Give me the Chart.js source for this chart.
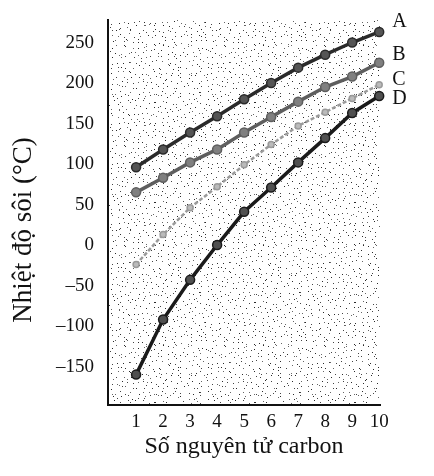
<!DOCTYPE html>
<html>
<head>
<meta charset="utf-8">
<script src="https://cdn.jsdelivr.net/npm/chart.js@4.4.1/dist/chart.umd.min.js"></script>
<style>
    html, body { margin: 0; padding: 0; background: #fff; }
    #wrap { width: 434px; height: 476px; }
</style>
</head>
<body>
<div id="wrap"><canvas id="boilingChart"></canvas></div>
<script>
// --- Data ---
const carbonCounts = [1, 2, 3, 4, 5, 6, 7, 8, 9, 10];
const seriesA = [96, 118, 139, 159, 180, 200, 219, 235, 250, 263];
const seriesB = [65, 83, 102, 118, 139, 158, 177, 195, 208, 225];
const seriesC = [-24, 13, 46, 72, 99, 124, 147, 164, 181, 198];
const seriesD = [-160, -92, -43, 0, 41, 71, 102, 132, 163, 184];
const seriesNames = ['A', 'B', 'C', 'D'];
const yTickValues = [-150, -100, -50, 0, 50, 100, 150, 200, 250];
const xTickValues = carbonCounts;

const serif = '"Liberation Serif", "DejaVu Serif", serif';

// dotted "print" texture for the plot area (decoration only)
// one dot per 5x5 cell, jittered so it doesn't look like a grid
function makeStipple(ctx) {
    const size = 100, cell = 5;
    const c = document.createElement('canvas');
    c.width = size; c.height = size;
    const g = c.getContext('2d');
    g.fillStyle = '#fff';
    g.fillRect(0, 0, size, size);
    const shades = ['#2a2a2a', '#444', '#666'];
    let s = 98765;
    for (let cy = 0; cy < size; cy += cell) {
        for (let cx = 0; cx < size; cx += cell) {
            s = (s * 16807) % 2147483647;
            const px = cx + (s % cell);
            s = (s * 16807) % 2147483647;
            const py = cy + (s % cell);
            g.fillStyle = shades[s % 3];
            g.fillRect(px, py, 1, 1);
        }
    }
    return ctx.createPattern(c, 'repeat');
}

const stipple = {
    id: 'stipple',
    beforeDraw(chart) {
        const { ctx, chartArea: { left, top, width, height } } = chart;
        if (!chart._stipple) chart._stipple = makeStipple(ctx);
        ctx.save();
        ctx.fillStyle = chart._stipple;
        ctx.fillRect(left, top, width, height);
        ctx.restore();
    }
};

// letter next to the last point of each line
const endLabels = {
    id: 'endLabels',
    afterDatasetsDraw(chart, args, opts) {
        const ctx = chart.ctx;
        ctx.save();
        ctx.font = opts.font;
        ctx.fillStyle = opts.color;
        ctx.textAlign = 'left';
        ctx.textBaseline = 'middle';
        chart.data.datasets.forEach((ds, i) => {
            const pts = chart.getDatasetMeta(i).data;
            const last = pts[pts.length - 1];
            ctx.fillText(ds.label, last.x + opts.dx, last.y + opts.dy[i]);
        });
        ctx.restore();
    }
};

// y title sits a bit lower than the axis middle in the original
const yTitle = {
    id: 'yTitle',
    afterDraw(chart, args, opts) {
        const ctx = chart.ctx;
        ctx.save();
        ctx.translate(opts.x, opts.y);
        ctx.rotate(-Math.PI / 2);
        ctx.font = opts.font;
        ctx.fillStyle = opts.color;
        ctx.textAlign = 'center';
        ctx.textBaseline = 'middle';
        ctx.fillText(opts.text, 0, 0);
        ctx.restore();
    }
};

const toPoints = vals => vals.map((v, i) => ({ x: carbonCounts[i], y: v }));

const lineStyles = [
    { color: '#2a2a2a', point: '#555', width: 3.5, dash: [], radius: 4.5 },
    { color: '#5e5e5e', point: '#808080', width: 3.5, dash: [], radius: 4.5 },
    { color: '#9a9a9a', point: '#bbb', width: 2.5, dash: [4, 2], radius: 3 },
    { color: '#1a1a1a', point: '#505050', width: 3.5, dash: [], radius: 4.5 }
];

const datasets = [seriesA, seriesB, seriesC, seriesD].map((vals, i) => ({
    label: seriesNames[i],
    data: toPoints(vals),
    borderColor: lineStyles[i].color,
    borderWidth: lineStyles[i].width,
    borderDash: lineStyles[i].dash,
    backgroundColor: lineStyles[i].point,
    pointBackgroundColor: lineStyles[i].point,
    pointBorderColor: lineStyles[i].color,
    pointBorderWidth: 1.5,
    pointRadius: lineStyles[i].radius,
    tension: 0,
    fill: false,
    clip: false
}));

const ctx = document.getElementById('boilingChart');

new Chart(ctx, {
    type: 'line',
    data: { datasets: datasets },
    options: {
        responsive: true,
        maintainAspectRatio: false,
        animation: false,
        layout: { padding: { top: 20, right: 54, left: 0, bottom: 0 } },
        plugins: {
            legend: { display: false },
            tooltip: { enabled: false },
            endLabels: { font: '20px ' + serif, color: '#111', dx: 13, dy: [-10, -8, -5, 3] },
            yTitle: { text: 'Nhiệt độ sôi (°C)', x: 24, y: 230, font: '27px ' + serif, color: '#111' }
        },
        scales: {
            x: {
                type: 'linear',
                min: -0.04,
                max: 10.03,
                afterFit: scale => { scale.height = 71; },
                afterBuildTicks: scale => { scale.ticks = xTickValues.map(v => ({ value: v })); },
                grid: { display: false, drawTicks: false },
                border: { display: true, color: '#111', width: 2 },
                ticks: {
                    font: { family: serif, size: 19 },
                    color: '#111',
                    padding: 6,
                    autoSkip: false,
                    maxRotation: 0
                },
                title: {
                    display: true,
                    text: 'Số nguyên tử carbon',
                    font: { family: serif, size: 24 },
                    color: '#111',
                    padding: { top: 0, bottom: 15 }
                }
            },
            y: {
                type: 'linear',
                min: -197.5,
                max: 277.8,
                // fixed width, and no extra room for half a tick label at the ends
                afterFit: scale => {
                    scale.width = 108;
                    scale.paddingTop = 0;
                    scale.paddingBottom = 0;
                },
                afterBuildTicks: scale => { scale.ticks = yTickValues.map(v => ({ value: v })); },
                grid: { display: false, drawTicks: false },
                border: { display: true, color: '#111', width: 2 },
                ticks: {
                    font: { family: serif, size: 19 },
                    color: '#111',
                    padding: 14,
                    callback: v => (v < 0 ? '–' + Math.abs(v) : String(v))
                }
            }
        }
    },
    plugins: [stipple, endLabels, yTitle]
});
</script>
</body>
</html>
